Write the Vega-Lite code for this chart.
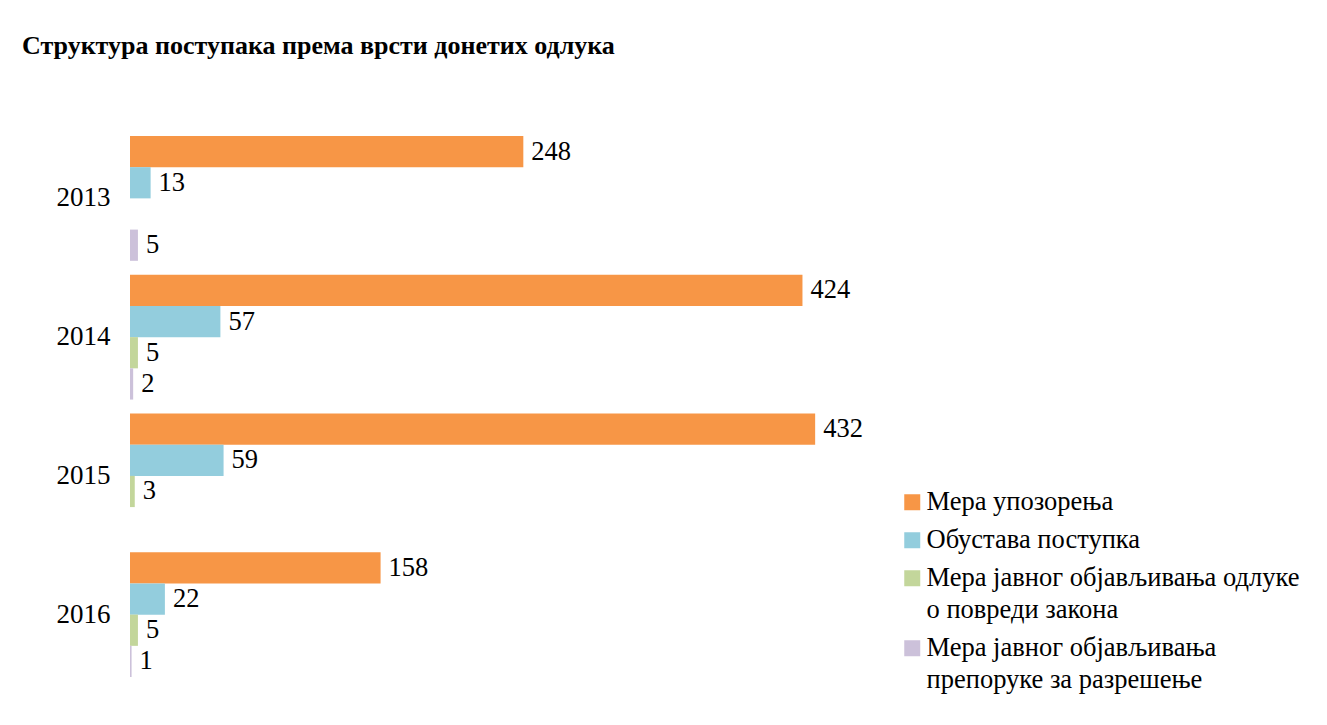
{
  "$schema": "https://vega.github.io/schema/vega-lite/v6.json",
  "width": 793,
  "height": 555,
  "autosize": {"type": "none"},
  "padding": {"left": 130, "top": 129, "right": 404, "bottom": 41},
  "background": "white",
  "title": {
    "text": "Структура поступака према врсти донетих одлука",
    "anchor": "start",
    "frame": "group",
    "dx": -108,
    "offset": 70,
    "font": "Liberation Serif",
    "fontSize": 26,
    "fontWeight": "bold",
    "color": "black"
  },
  "data": {
    "values": [
      {"year": "2013", "series": "Мера упозорења", "value": 248},
      {"year": "2013", "series": "Обустава поступка", "value": 13},
      {"year": "2013", "series": "Мера јавног објављивања препоруке за разрешење", "value": 5},
      {"year": "2014", "series": "Мера упозорења", "value": 424},
      {"year": "2014", "series": "Обустава поступка", "value": 57},
      {"year": "2014", "series": "Мера јавног објављивања одлуке о повреди закона", "value": 5},
      {"year": "2014", "series": "Мера јавног објављивања препоруке за разрешење", "value": 2},
      {"year": "2015", "series": "Мера упозорења", "value": 432},
      {"year": "2015", "series": "Обустава поступка", "value": 59},
      {"year": "2015", "series": "Мера јавног објављивања одлуке о повреди закона", "value": 3},
      {"year": "2016", "series": "Мера упозорења", "value": 158},
      {"year": "2016", "series": "Обустава поступка", "value": 22},
      {"year": "2016", "series": "Мера јавног објављивања одлуке о повреди закона", "value": 5},
      {"year": "2016", "series": "Мера јавног објављивања препоруке за разрешење", "value": 1}
    ]
  },
  "encoding": {
    "y": {
      "field": "year",
      "type": "nominal",
      "scale": {"paddingInner": 0.1, "paddingOuter": 0.05},
      "axis": {
        "title": null,
        "domain": false,
        "ticks": false,
        "labelFont": "Liberation Serif",
        "labelFontSize": 27,
        "labelColor": "black",
        "labelPadding": 20
      }
    },
    "yOffset": {
      "field": "series",
      "type": "nominal",
      "sort": [
        "Мера упозорења",
        "Обустава поступка",
        "Мера јавног објављивања одлуке о повреди закона",
        "Мера јавног објављивања препоруке за разрешење"
      ],
      "scale": {"paddingInner": 0, "paddingOuter": 0}
    },
    "x": {
      "field": "value",
      "type": "quantitative",
      "scale": {"domain": [0, 500], "nice": false},
      "axis": null
    }
  },
  "layer": [
    {
      "mark": {"type": "bar"},
      "encoding": {
        "color": {
          "field": "series",
          "type": "nominal",
          "scale": {
            "domain": [
              "Мера упозорења",
              "Обустава поступка",
              "Мера јавног објављивања одлуке о повреди закона",
              "Мера јавног објављивања препоруке за разрешење"
            ],
            "range": ["#F79646", "#93CDDD", "#C3D69B", "#CCC1DA"]
          },
          "legend": {
            "title": null,
            "orient": "none",
            "legendX": 769,
            "legendY": 360,
            "padding": 0,
            "symbolType": "square",
            "symbolSize": 256,
            "symbolStrokeWidth": 0,
            "symbolOpacity": 1,
            "labelFont": "Liberation Serif",
            "labelFontSize": 26.5,
            "labelColor": "black",
            "labelLimit": 0,
            "labelOffset": 1,
            "rowPadding": 11,
            "encode": {
              "labels": {"update": {"lineHeight": {"value": 32}}}
            },
            "labelExpr": "datum.label == 'Мера јавног објављивања одлуке о повреди закона' ? ['Мера јавног објављивања одлуке', 'о повреди закона'] : datum.label == 'Мера јавног објављивања препоруке за разрешење' ? ['Мера јавног објављивања', 'препоруке за разрешење'] : datum.label"
          }
        }
      }
    },
    {
      "mark": {
        "type": "text",
        "align": "left",
        "baseline": "middle",
        "dx": 8,
        "font": "Liberation Serif",
        "fontSize": 26.5,
        "color": "black"
      },
      "encoding": {
        "text": {"field": "value", "type": "quantitative"}
      }
    }
  ],
  "config": {
    "view": {"stroke": null}
  }
}
